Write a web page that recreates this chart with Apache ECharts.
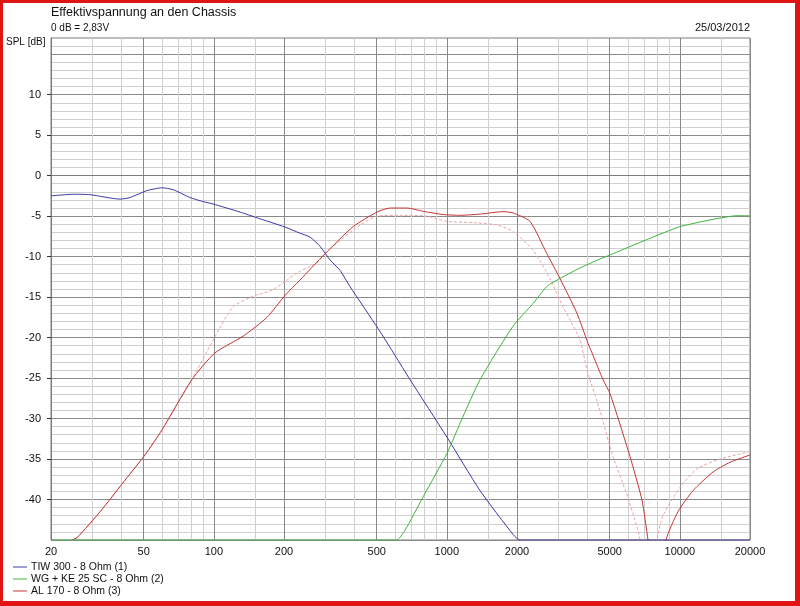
<!DOCTYPE html>
<html><head><meta charset="utf-8">
<script src="https://cdn.jsdelivr.net/npm/echarts@6/dist/echarts.min.js"></script>
<style>
html,body{margin:0;padding:0;background:#fff;}
#wrap{position:relative;width:800px;height:606px;overflow:hidden;}
#chart{position:absolute;left:0;top:0;width:800px;height:606px;}
#frame{position:absolute;left:0;top:0;width:800px;height:606px;box-sizing:border-box;border-style:solid;border-color:#e01414;border-width:3px 5px 5px 3px;pointer-events:none;}
</style></head><body>
<div id="wrap"><div id="chart"></div><div id="frame"></div></div>
<script>
// ---- data (frequency in Hz, level in dB) ----
const tiwFreq = [20, 24.9, 29.4, 39.6, 43.7, 51.5, 59.9, 66.8, 79, 89.8, 99.2, 129.5, 153, 202, 234, 259, 286, 315, 348, 384, 507, 599, 695, 1001, 1388, 1922, 2060, 20000];
const tiwDb   = [-2.5, -2.3, -2.35, -2.9, -2.7, -1.86, -1.5, -1.73, -2.7, -3.2, -3.5, -4.5, -5.2, -6.35, -7.1, -7.6, -8.75, -10.4, -11.7, -13.7, -18.9, -22.2, -25.2, -32.3, -38.9, -44.3, -45, -45];

const wgFreq = [20, 606, 661, 790, 1001, 1171, 1388, 1922, 2343, 2683, 3058, 3729, 4541, 5012, 7206, 10012, 13878, 17592, 20000];
const wgDb   = [-45, -45, -43.8, -39.7, -34.3, -29.8, -25.2, -18.6, -15.8, -13.7, -12.7, -11.4, -10.3, -9.8, -7.9, -6.3, -5.4, -4.95, -4.95];

const alFreq = [24.6, 25.9, 32.5, 41.6, 50.6, 59.9, 80.4, 101, 134, 169, 202, 234, 300, 396, 501, 570, 675, 790, 963, 1139, 1388, 1742, 1922, 2274, 2683, 3058, 3618, 4034, 4240, 4679, 5012, 6110, 6880, 7300, 7700, 8400, 8720, 9817, 11388, 13878, 16416, 20000];
const alDb   = [-45, -44.7, -41.5, -37.6, -34.5, -31.4, -25.2, -21.9, -19.8, -17.5, -14.8, -12.9, -9.65, -6.3, -4.5, -4.0, -4.0, -4.4, -4.8, -4.9, -4.75, -4.45, -4.6, -5.65, -9.6, -12.7, -17, -20.7, -22.2, -25.2, -26.9, -34.7, -40.1, -45, -50, -50, -45, -41.5, -38.9, -36.6, -35.4, -34.5];

const alRefFreq = [24.6, 25.9, 32.5, 41.6, 50.6, 59.9, 80.4, 101, 121, 147, 179, 206, 234, 277, 300, 396, 501, 629, 822, 1001, 1295, 1642, 1922, 2343, 2770, 3151, 3378, 3729, 3994, 4114, 4541, 5165, 5914, 6612, 6750, 7100, 7700, 7981, 8464, 10012, 11845, 14866, 20000];
const alRefDb   = [-45, -44.7, -41.5, -37.6, -34.5, -31.4, -25.2, -19.9, -16.2, -14.9, -14.1, -12.9, -11.8, -10.8, -9.65, -6.7, -5.0, -4.9, -5.0, -5.65, -5.8, -6.1, -6.9, -9.2, -12.7, -16.2, -17.8, -20.3, -24, -25.2, -29, -34.7, -39.3, -43.8, -45, -50, -50, -45, -42, -38.5, -36.2, -35, -34.1];

const seriesNames = ['TIW 300 - 8 Ohm (1)', 'WG + KE 25 SC - 8 Ohm (2)', 'AL 170 - 8 Ohm (3)'];
const xGridValues = [20,30,40,50,60,70,80,90,100,150,200,300,400,500,600,700,800,900,1000,1500,2000,3000,4000,5000,6000,7000,8000,9000,10000,15000,20000];
const xLabelValues = [20,50,100,200,500,1000,2000,5000,10000,20000];
const yLabelValues = [-40,-35,-30,-25,-20,-15,-10,-5,0,5,10];

const titleText = 'Effektivspannung an den Chassis';
const subText = '0 dB = 2,83V';
const dateText = '25/03/2012';
const yName = 'SPL [dB]';

function zip(a, b) { return a.map((v, i) => [v, b[i]]); }

const FONT = '"Liberation Sans", Arial, sans-serif';
const chart = echarts.init(document.getElementById('chart'), null, {renderer: 'canvas'});
const lineCommon = {type: 'line', showSymbol: false, symbol: 'none', smooth: 0.2};
chart.setOption({
  animation: false,
  backgroundColor: '#ffffff',
  grid: {left: 51, right: 50, top: 38, bottom: 66, show: true, borderColor: '#7c7c7c', borderWidth: 1, backgroundColor: 'transparent'},
  graphic: [
    {type: 'text', left: 51, top: 6, style: {text: titleText, font: '12.5px ' + FONT, fill: '#111'}},
    {type: 'text', left: 51, top: 23, style: {text: subText, font: '10px ' + FONT, fill: '#111'}},
    {type: 'text', right: 50, top: 22, style: {text: dateText, font: '11px ' + FONT, fill: '#111'}},
    {type: 'text', left: 6, top: 37, style: {text: yName, font: '10px ' + FONT, fill: '#111'}}
  ],
  legend: {
    data: seriesNames, orient: 'vertical', left: 13, top: 561, icon: 'rect', itemWidth: 14, itemHeight: 1, itemGap: 0,
    padding: 0, selectedMode: false,
    textStyle: {fontSize: 10.5, fontFamily: FONT, color: '#111', lineHeight: 12, padding: [0,0,0,-1]}
  },
  xAxis: {
    type: 'log', logBase: 10, min: 20, max: 20000,
    axisLine: {show: true, lineStyle: {color: '#7c7c7c'}},
    axisTick: {show: false, customValues: xGridValues},
    axisLabel: {customValues: xLabelValues, formatter: v => String(v), margin: 6, fontSize: 11, fontFamily: FONT, color: '#111'},
    splitLine: {show: true, lineStyle: {width: 1, color: xGridValues.map(v => xLabelValues.indexOf(v) >= 0 ? '#8a8a8a' : '#cfcfcf')}}
  },
  yAxis: [
    {
      type: 'value', min: -45, max: 17, interval: 1,
      axisLine: {show: true, lineStyle: {color: '#7c7c7c'}},
      axisTick: {show: false}, axisLabel: {show: false},
      splitLine: {show: true, showMaxLine: false, lineStyle: {width: 1, color: ['#8a8a8a', '#cfcfcf', '#cfcfcf', '#cfcfcf', '#cfcfcf']}}
    },
    {
      type: 'value', position: 'left', min: -45, max: 17, interval: 5,
      axisLine: {show: false},
      axisTick: {show: true, length: 4, customValues: yLabelValues, lineStyle: {color: '#333'}},
      axisLabel: {customValues: yLabelValues, margin: 10, fontSize: 11, fontFamily: FONT, color: '#111'},
      splitLine: {show: false}
    }
  ],
  series: [
    Object.assign({name: seriesNames[0], data: zip(tiwFreq, tiwDb), z: 5,
     lineStyle: {color: '#3a3aa6', width: 1}, itemStyle: {color: '#3a3aa6'}}, lineCommon),
    Object.assign({name: seriesNames[1], data: zip(wgFreq, wgDb), z: 5,
     lineStyle: {color: '#3cb43c', width: 1}, itemStyle: {color: '#3cb43c'}}, lineCommon),
    Object.assign({name: 'AL 170 ref', data: zip(alRefFreq, alRefDb), z: 3,
     lineStyle: {color: '#e6a4a4', width: 1, type: [3, 2]}, itemStyle: {color: '#e6a4a4'}}, lineCommon),
    Object.assign({name: seriesNames[2], data: zip(alFreq, alDb), z: 4,
     lineStyle: {color: '#c43434', width: 1}, itemStyle: {color: '#c43434'}}, lineCommon)
  ]
});
</script>
</body></html>
